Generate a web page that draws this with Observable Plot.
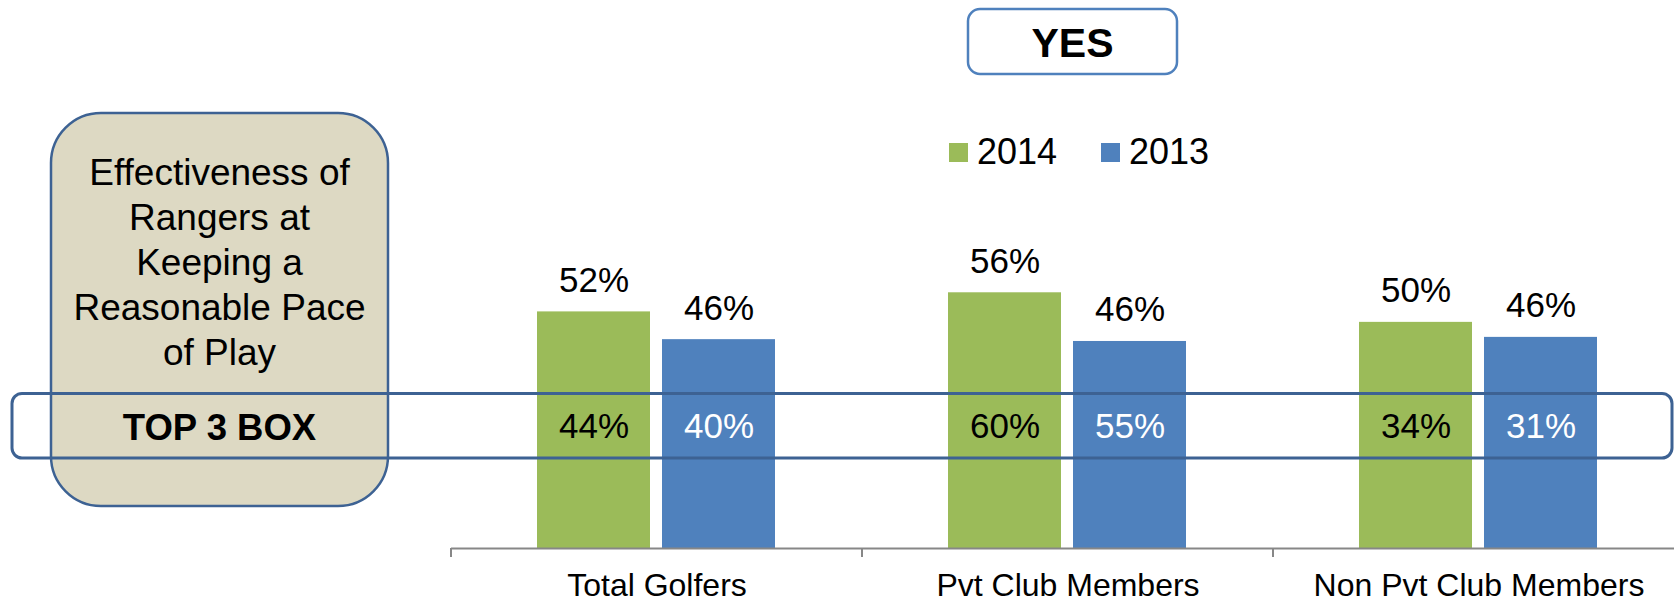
<!DOCTYPE html>
<html><head><meta charset="utf-8">
<script src="https://cdn.jsdelivr.net/npm/d3@7"></script>
<script src="https://cdn.jsdelivr.net/npm/@observablehq/plot@0.6"></script>
<style>html,body{margin:0;padding:0;background:#fff;overflow:hidden}</style>
</head><body><div id="chart"></div>
<script>
// ---- data ----
const categories = ["Total Golfers", "Pvt Club Members", "Non Pvt Club Members"];
const years = ["2014", "2013"];
const values2014 = [52, 56.2, 49.7];
const values2013 = [45.9, 45.5, 46.4];
const labels2014 = ["52%", "56%", "50%"];
const labels2013 = ["46%", "46%", "46%"];
const top3Box2014 = ["44%", "60%", "34%"];
const top3Box2013 = ["40%", "55%", "31%"];
const sideTitleLines = ["Effectiveness of", "Rangers at", "Keeping a", "Reasonable Pace", "of Play"];
const bandTitle = "TOP 3 BOX";
const headerTitle = "YES";

// ---- table built from the arrays ----
const rows = categories.flatMap((c, i) => [
  {category: c, year: "2014", value: values2014[i], label: labels2014[i], top3: top3Box2014[i]},
  {category: c, year: "2013", value: values2013[i], label: labels2013[i], top3: top3Box2013[i]}
]);

const GREEN = "#9BBB59", BLUE = "#4F81BD", DARKBLUE = "#3D6293";
const FONT = "'Liberation Sans', Arial, Helvetica, sans-serif";

const plot = Plot.plot({
  width: 1674, height: 600,
  marginTop: 93, marginBottom: 52, marginLeft: 450, marginRight: 0,
  style: {fontFamily: FONT, background: "white", overflow: "visible"},
  fx: {domain: categories, range: [450, 1685.3], padding: 0, axis: null, label: null},
  x: {domain: years, paddingInner: 0.0952, paddingOuter: 0.6825, axis: null, label: null},
  y: {domain: [0, 100], axis: null},
  color: {domain: years, range: [GREEN, BLUE]},
  marks: [
    Plot.barY(rows, {fx: "category", x: "year", y: "value", fill: "year"}),
    Plot.ruleY([0], {stroke: "#878787", strokeWidth: 2}),
    Plot.text(rows, {fx: "category", x: "year", y: "value", text: "label", dy: -20,
      lineAnchor: "bottom", fontSize: 35, fill: "black"}),
    Plot.text(rows, {filter: d => d.year === "2014", fx: "category", x: "year", text: "top3",
      frameAnchor: "top", dy: 333, lineAnchor: "middle", fontSize: 35, fill: "black"}),
    Plot.text(rows, {filter: d => d.year === "2013", fx: "category", x: "year", text: "top3",
      frameAnchor: "top", dy: 333, lineAnchor: "middle", fontSize: 35, fill: "white"}),
    Plot.text(categories, {fx: d => d, text: d => d, frameAnchor: "bottom", dy: 47,
      lineAnchor: "bottom", fontSize: 32, fill: "black"})
  ]
});
document.getElementById("chart").appendChild(plot);

const svg = d3.select(plot);

// axis ticks at category band boundaries (from the fx scale)
const fx = plot.scale("fx");
const bounds = categories.map(c => fx.apply(c));
bounds.forEach(b => {
  svg.append("line").attr("x1", b).attr("x2", b).attr("y1", 548).attr("y2", 557)
    .attr("stroke", "#878787").attr("stroke-width", 2);
});

// left rounded title box
svg.append("rect").attr("x", 51).attr("y", 113).attr("width", 337).attr("height", 393)
  .attr("rx", 50).attr("fill", "#DDD9C3").attr("stroke", DARKBLUE).attr("stroke-width", 2.5);
const tt = svg.append("text").attr("font-family", FONT).attr("font-size", 37)
  .attr("text-anchor", "middle").attr("fill", "black");
sideTitleLines.forEach((line, i) => {
  tt.append("tspan").attr("x", 219.5).attr("y", 185 + i * 45).text(line);
});

// TOP 3 BOX band
svg.append("rect").attr("x", 12).attr("y", 393.5).attr("width", 1660).attr("height", 64.5)
  .attr("rx", 10).attr("fill", "none").attr("stroke", DARKBLUE).attr("stroke-width", 3);
svg.append("text").attr("x", 219.5).attr("y", 440).attr("font-family", FONT)
  .attr("font-size", 36.5).attr("font-weight", "bold").attr("text-anchor", "middle")
  .attr("fill", "black").text(bandTitle);

// YES header box
svg.append("rect").attr("x", 968).attr("y", 9).attr("width", 209).attr("height", 65)
  .attr("rx", 12).attr("fill", "white").attr("stroke", BLUE).attr("stroke-width", 2.5);
svg.append("text").attr("x", 1072.5).attr("y", 57).attr("font-family", FONT)
  .attr("font-size", 41).attr("font-weight", "bold").attr("text-anchor", "middle")
  .attr("fill", "black").text(headerTitle);

// legend
const legendX = [949, 1101];
years.forEach((yr, i) => {
  svg.append("rect").attr("x", legendX[i]).attr("y", 143).attr("width", 19).attr("height", 19)
    .attr("fill", i === 0 ? GREEN : BLUE);
  svg.append("text").attr("x", legendX[i] + 28).attr("y", 164).attr("font-family", FONT)
    .attr("font-size", 36).attr("text-anchor", "start").attr("fill", "black").text(yr);
});
</script>
</body></html>
